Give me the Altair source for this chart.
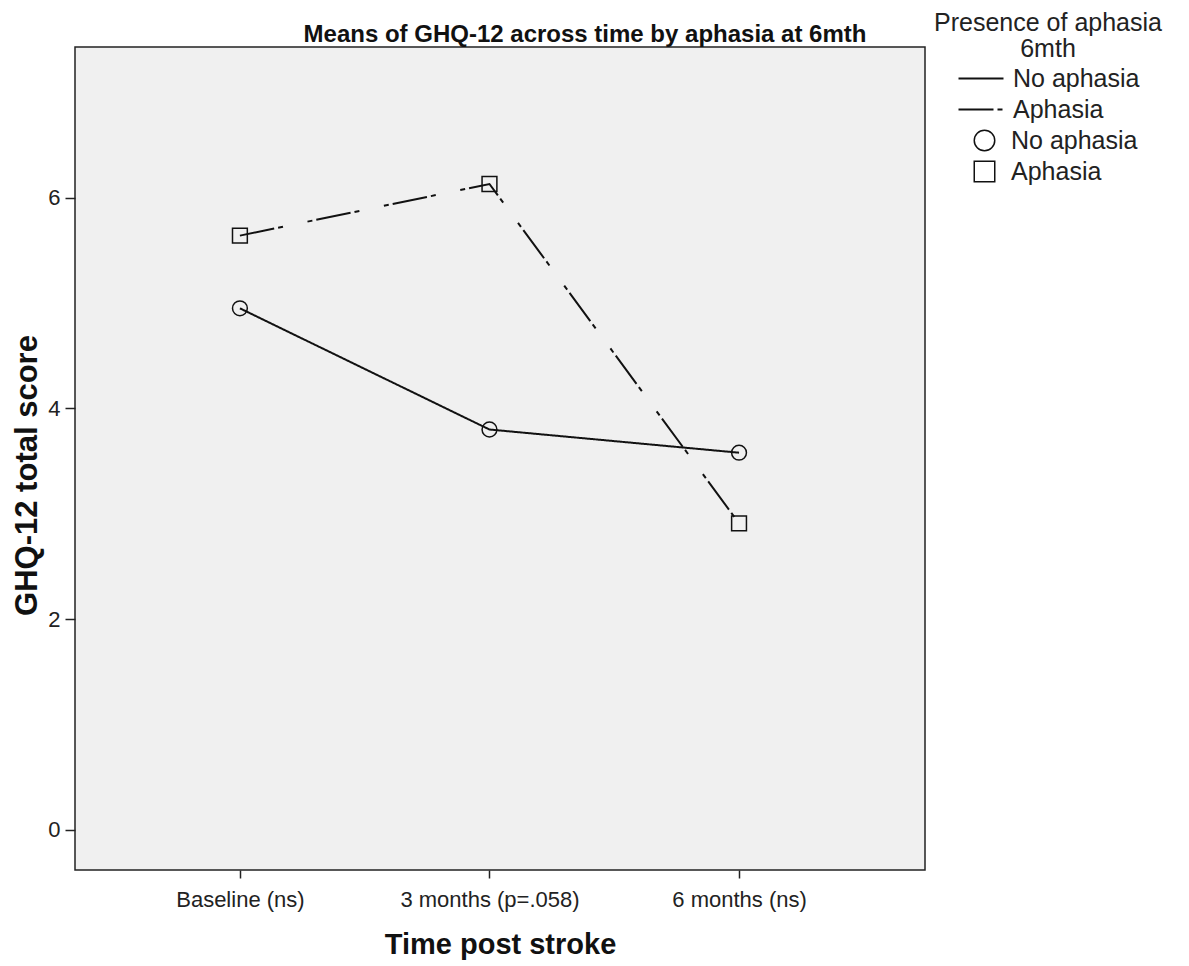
import altair as alt
import pandas as pd

times = ["Baseline (ns)", "3 months (p=.058)", "6 months (ns)"]
groups = ["No aphasia", "Aphasia"]
no_aphasia = [4.95, 3.80, 3.58]
aphasia = [5.64, 6.13, 2.91]

rows = []
for t, v in zip(times, no_aphasia):
    rows.append({"time": t, "group": "No aphasia", "score": v})
for t, v in zip(times, aphasia):
    rows.append({"time": t, "group": "Aphasia", "score": v})
df = pd.DataFrame(rows)

FONT = "Liberation Sans"

x = alt.X("time:N", sort=times,
          scale=alt.Scale(type="point", padding=0.703, align=0.47),
          axis=alt.Axis(title="Time post stroke", labelAngle=0, labelFontSize=22,
                        labelFont=FONT, labelColor="#222", titleFont=FONT,
                        titleFontSize=29, titleFontWeight="bold", titleColor="#111",
                        titlePadding=20, labelPadding=11, tickSize=8, tickColor="#222",
                        tickWidth=1.5, domain=False, grid=False, labelLimit=400))
y = alt.Y("score:Q",
          scale=alt.Scale(domain=[-0.38, 7.43], nice=False, zero=False),
          axis=alt.Axis(title="GHQ-12 total score", values=[0, 2, 4, 6], labelFontSize=22,
                        labelFont=FONT, labelColor="#222", titleFont=FONT,
                        titleFontSize=31, titleFontWeight="bold", titleColor="#111",
                        titlePadding=4, labelPadding=5, tickSize=10, tickColor="#222",
                        tickWidth=1.5, domain=False, grid=False, titleY=428))

lines = alt.Chart(df).mark_line(color="#111", strokeWidth=2).encode(
    x=x, y=y,
    strokeDash=alt.StrokeDash("group:N", sort=groups,
        scale=alt.Scale(domain=groups, range=[[1, 0], [35, 4, 5, 25, 5, 4]]),
        legend=alt.Legend(title=["Presence of aphasia", "6mth"], orient="none",
                          legendX=859, legendY=-36, symbolType="M-1,0L3.5,0",
                          symbolStrokeColor="#111", symbolStrokeWidth=2,
                          symbolFillColor="transparent",
                          symbolSize=400, labelFontSize=25, labelFont=FONT,
                          labelColor="#222", titleFontSize=25, titleFont=FONT,
                          titleFontWeight="normal", titleColor="#222", titleLimit=400,
                          labelLimit=400,
                          titleAnchor="middle", titleAlign="center", titleLineHeight=26,
                          titlePadding=4, rowPadding=5, labelOffset=32,
                          symbolDash=[1, 0])),
    detail="group:N",
)

points = alt.Chart(df).mark_point(filled=False, color="#111", strokeWidth=1.5, size=220,
                                  opacity=1).encode(
    x=x, y=y,
    shape=alt.Shape("group:N", sort=groups,
        scale=alt.Scale(domain=groups, range=["circle", "square"]),
        legend=alt.Legend(title=None, orient="none", legendX=897, legendY=81,
                          symbolStrokeColor="#111", symbolFillColor="transparent",
                          symbolStrokeWidth=1.5, symbolSize=420, labelFontSize=25,
                          labelFont=FONT, labelColor="#222", rowPadding=4,
                          labelOffset=14, labelLimit=400)),
)

chart = alt.layer(lines, points).resolve_legend(strokeDash="independent", shape="independent").properties(
    width=850, height=823,
    padding={"left": 67, "top": 39, "right": 250, "bottom": 95},
    autosize=alt.AutoSizeParams(type="none"),
    title=alt.TitleParams("Means of GHQ-12 across time by aphasia at 6mth", font=FONT,
                          fontSize=24, fontWeight="bold", color="#111", anchor="middle",
                          frame="group", dx=85, offset=-36),
).configure(background="white"
).configure_view(fill="#f0f0f0", stroke="#222", strokeWidth=1.5)

chart.save("out.html", embed_options={"renderer": "svg", "actions": False})
